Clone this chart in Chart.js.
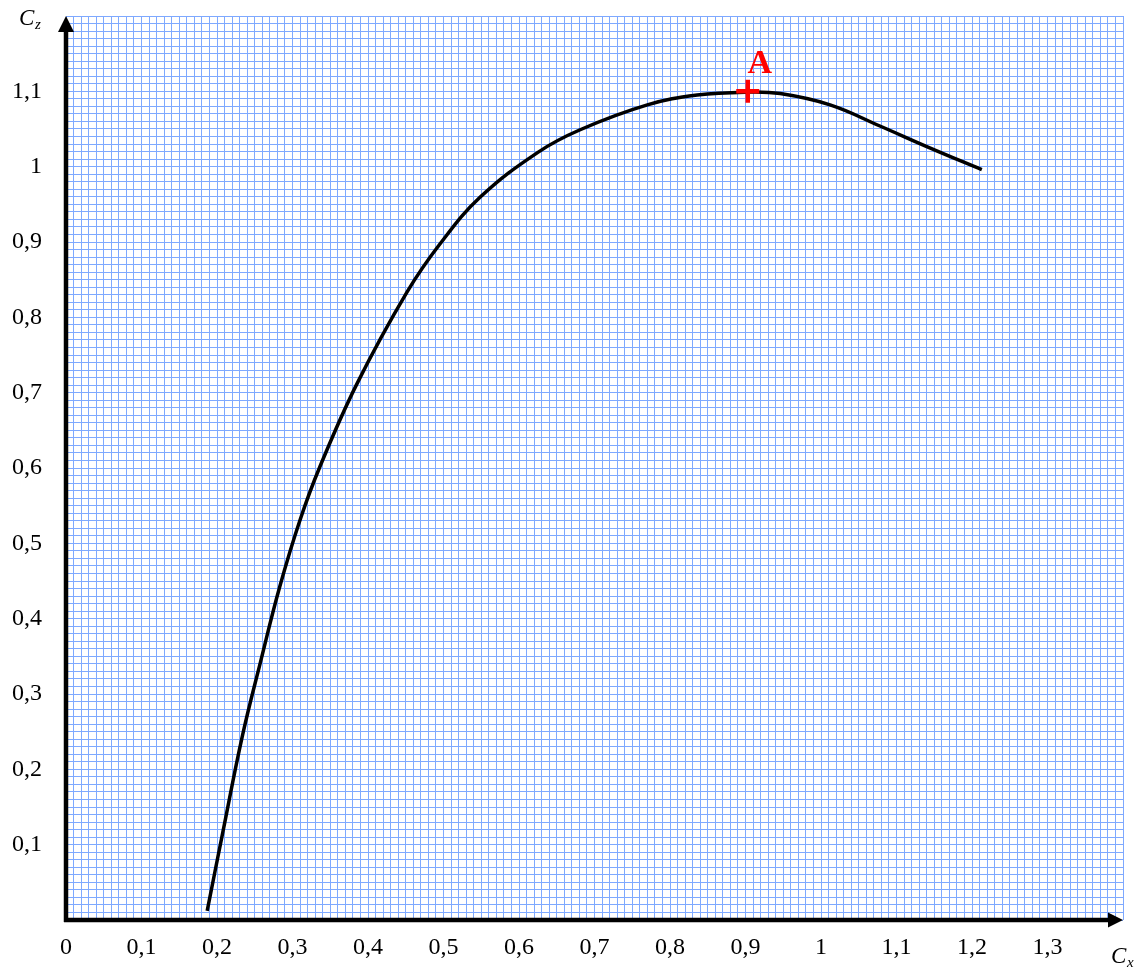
<!DOCTYPE html>
<html>
<head>
<meta charset="utf-8">
<script src="https://cdn.jsdelivr.net/npm/chart.js@4"></script>
<style>
html, body { margin: 0; background: #fff; }
#wrap { width: 1144px; height: 969px; }
</style>
</head>
<body>
<div id="wrap"><canvas id="chartCanvas"></canvas></div>
<script>
// polaire : Cz en fonction de Cx
const cxValues = [0.187, 0.208, 0.234, 0.258, 0.283, 0.310, 0.336, 0.385, 0.452, 0.495, 0.548, 0.625, 0.681, 0.770, 0.836, 0.903, 0.946, 1.012, 1.078, 1.144, 1.213];
const czValues = [0.012, 0.118, 0.246, 0.344, 0.442, 0.531, 0.601, 0.711, 0.834, 0.897, 0.959, 1.019, 1.049, 1.082, 1.095, 1.099, 1.097, 1.082, 1.054, 1.025, 0.996];

const pointA = { x: 0.903, y: 1.1, label: "A" };

const xTickLabels = ["0", "0,1", "0,2", "0,3", "0,4", "0,5", "0,6", "0,7", "0,8", "0,9", "1", "1,1", "1,2", "1,3"];
const yTickLabels = ["0,1", "0,2", "0,3", "0,4", "0,5", "0,6", "0,7", "0,8", "0,9", "1", "1,1"];

const xMax = 1.4;
const yMax = 1.2;
const gridStep = 0.01;

const serif = "'Liberation Serif', 'Times New Roman', serif";
const gridColor = "#7ea9ff";

// axes fléchés + titres + repère A
const axesPlugin = {
  id: "axesPlugin",
  afterDatasetsDraw(chart) {
    const ctx = chart.ctx;
    const area = chart.chartArea;
    const x0 = area.left, y0 = area.bottom;
    ctx.save();
    ctx.strokeStyle = "#000";
    ctx.fillStyle = "#000";
    ctx.lineWidth = 4.5;
    ctx.lineCap = "butt";
    // axe Cz
    ctx.beginPath();
    ctx.moveTo(x0, y0 + 2);
    ctx.lineTo(x0, area.top + 14);
    ctx.stroke();
    ctx.beginPath();
    ctx.moveTo(x0, area.top);
    ctx.lineTo(x0 - 8, area.top + 16);
    ctx.lineTo(x0 + 8, area.top + 16);
    ctx.closePath();
    ctx.fill();
    // axe Cx
    ctx.beginPath();
    ctx.moveTo(x0 - 2, y0);
    ctx.lineTo(area.right - 14, y0);
    ctx.stroke();
    ctx.beginPath();
    ctx.moveTo(area.right, y0);
    ctx.lineTo(area.right - 15, y0 - 7.5);
    ctx.lineTo(area.right - 15, y0 + 7.5);
    ctx.closePath();
    ctx.fill();

    // titres des axes
    ctx.textBaseline = "alphabetic";
    ctx.textAlign = "left";
    ctx.font = "italic 23px " + serif;
    ctx.fillText("C", 19, 25);
    ctx.fillText("C", 1111, 963);
    ctx.font = "italic 15px " + serif;
    ctx.fillText("z", 35, 29);
    ctx.fillText("x", 1127, 967);

    // lettre A
    const px = chart.scales.x.getPixelForValue(pointA.x);
    const py = chart.scales.y.getPixelForValue(pointA.y);
    ctx.fillStyle = "#ff0000";
    ctx.textAlign = "center";
    ctx.font = "bold 34px " + serif;
    ctx.fillText(pointA.label, px + 12, py - 18);
    ctx.restore();
  }
};

function tickLabel(value, labels, offset) {
  const h = Math.round(value * 100);
  if (h % 10 !== 0) return "";
  const k = h / 10 - offset;
  return labels[k] !== undefined ? labels[k] : "";
}

function noPadding(s) {
  s.paddingTop = 0;
  s.paddingBottom = 0;
  s.paddingLeft = 0;
  s.paddingRight = 0;
}

const curve = cxValues.map((x, i) => ({ x: x, y: czValues[i] }));

new Chart(document.getElementById("chartCanvas"), {
  type: "scatter",
  data: {
    datasets: [
      {
        label: "A",
        data: [{ x: pointA.x, y: pointA.y }],
        pointStyle: "cross",
        pointRadius: 11.5,
        pointBorderWidth: 4.5,
        borderColor: "#ff0000",
        backgroundColor: "#ff0000",
        order: 0
      },
      {
        label: "Cz(Cx)",
        data: curve,
        showLine: true,
        borderColor: "#000",
        borderWidth: 3.5,
        pointRadius: 0,
        tension: 0.4,
        order: 1
      }
    ]
  },
  options: {
    responsive: true,
    maintainAspectRatio: false,
    animation: false,
    layout: { padding: { top: 14, right: 21, left: 0, bottom: 0 } },
    plugins: {
      legend: { display: false },
      tooltip: { enabled: false }
    },
    scales: {
      x: {
        type: "linear",
        min: 0,
        max: xMax,
        afterFit: s => { s.height = 49; noPadding(s); },
        border: { display: false },
        grid: { color: gridColor, lineWidth: 1, drawTicks: false },
        ticks: {
          stepSize: gridStep,
          autoSkip: false,
          maxRotation: 0,
          padding: 13,
          color: "#000",
          font: { family: serif, size: 24 },
          callback: v => tickLabel(v, xTickLabels, 0)
        }
      },
      y: {
        type: "linear",
        min: 0,
        max: yMax,
        afterFit: s => { s.width = 66; noPadding(s); },
        border: { display: false },
        grid: { color: gridColor, lineWidth: 1, drawTicks: false },
        ticks: {
          stepSize: gridStep,
          autoSkip: false,
          padding: 24,
          color: "#000",
          font: { family: serif, size: 24 },
          callback: v => tickLabel(v, yTickLabels, 1)
        }
      }
    }
  },
  plugins: [axesPlugin]
});
</script>
</body>
</html>
